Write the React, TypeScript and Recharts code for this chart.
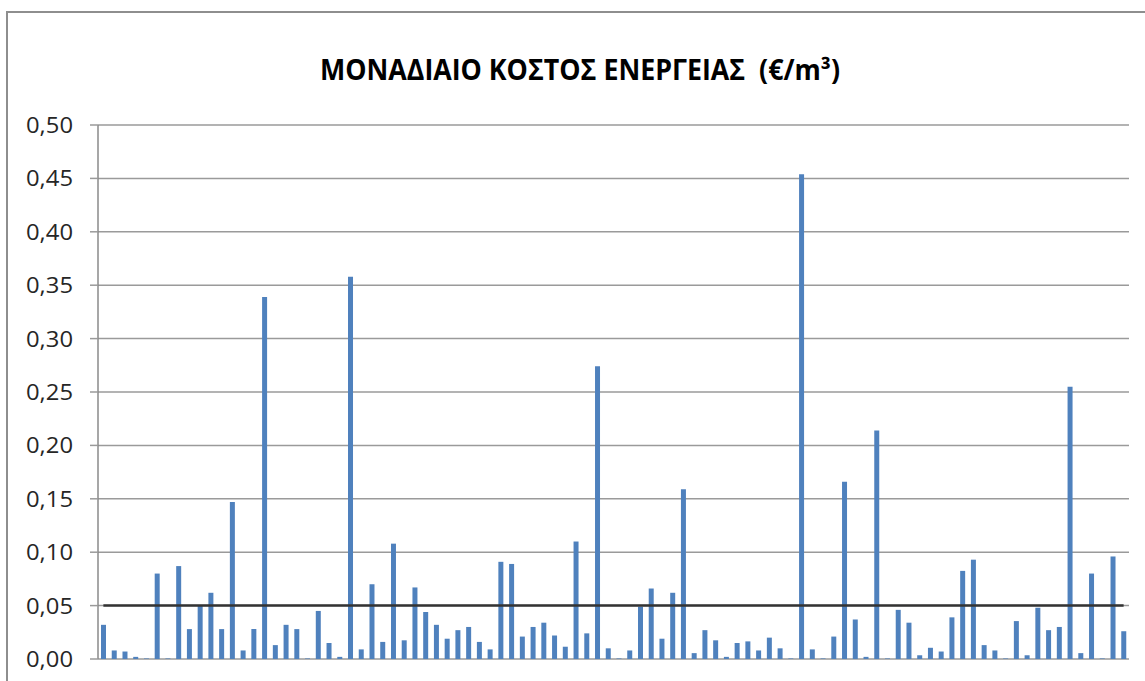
import React from "react";
import { BarChart, Bar, XAxis, YAxis, CartesianGrid, ReferenceLine } from "recharts";

const title = "ΜΟΝΑΔΙΑΙΟ ΚΟΣΤΟΣ ΕΝΕΡΓΕΙΑΣ  (€/m³)";

const categories = [
  "1", "2", "3", "4", "5", "6", "7", "8", "9", "10", "11", "12",
  "13", "14", "15", "16", "17", "18", "19", "20", "21", "22", "23", "24",
  "25", "26", "27", "28", "29", "30", "31", "32", "33", "34", "35", "36",
  "37", "38", "39", "40", "41", "42", "43", "44", "45", "46", "47", "48",
  "49", "50", "51", "52", "53", "54", "55", "56", "57", "58", "59", "60",
  "61", "62", "63", "64", "65", "66", "67", "68", "69", "70", "71", "72",
  "73", "74", "75", "76", "77", "78", "79", "80", "81", "82", "83", "84",
  "85", "86", "87", "88", "89", "90", "91", "92", "93", "94", "95", "96",
];

const unitCost = [
  0.032, 0.008, 0.007, 0.002, 0.0005, 0.08, 0.0005, 0.087, 0.028, 0.05, 0.062, 0.028,
  0.147, 0.008, 0.028, 0.339, 0.013, 0.032, 0.028, 0.0005, 0.045, 0.015, 0.002, 0.358,
  0.009, 0.07, 0.016, 0.108, 0.0175, 0.067, 0.044, 0.032, 0.019, 0.027, 0.03, 0.016,
  0.009, 0.091, 0.089, 0.021, 0.03, 0.034, 0.022, 0.0115, 0.11, 0.024, 0.274, 0.01,
  0.0005, 0.008, 0.049, 0.066, 0.019, 0.062, 0.159, 0.0055, 0.027, 0.0175, 0.002, 0.015,
  0.0165, 0.008, 0.02, 0.01, 0.0005, 0.454, 0.009, 0.0005, 0.021, 0.166, 0.037, 0.002,
  0.214, 0.0005, 0.046, 0.034, 0.0035, 0.0105, 0.007, 0.039, 0.0825, 0.093, 0.013, 0.008,
  0.0005, 0.0355, 0.0035, 0.048, 0.027, 0.03, 0.255, 0.0055, 0.08, 0.0005, 0.096, 0.026,
];

const threshold = 0.05;

const yTicks = [0, 0.05, 0.1, 0.15, 0.2, 0.25, 0.3, 0.35, 0.4, 0.45, 0.5];
const yTickLabels = ["0,00", "0,05", "0,10", "0,15", "0,20", "0,25", "0,30", "0,35", "0,40", "0,45", "0,50"];

const data = categories.map((c, i) => ({ name: c, value: unitCost[i] }));

const YTick = (props: any) => {
  const { x, y, index } = props;
  return (
    <text
      x={x}
      y={y}
      textAnchor="end"
      dominantBaseline="central"
      fontFamily="Open Sans"
      fontSize={21}
      fill="#262626"
      textLength={47}
      lengthAdjust="spacingAndGlyphs"
    >
      {yTickLabels[index]}
    </text>
  );
};

export default function App() {
  return (
    <div
      style={{
        position: "absolute",
        left: 0,
        top: 0,
        width: 1145,
        height: 681,
        overflow: "hidden",
        background: "#ffffff",
      }}
    >
      <div
        style={{
          position: "absolute",
          left: 6,
          top: 11,
          width: 1300,
          height: 900,
          border: "2px solid #8e8e8e",
          boxSizing: "border-box",
        }}
      />
      <svg
        width={1145}
        height={110}
        style={{ position: "absolute", left: 0, top: 0 }}
      >
        <text
          x={320}
          y={80}
          fontFamily="Open Sans"
          fontWeight="bold"
          fontSize={28}
          fill="#000000"
          textLength={520}
          lengthAdjust="spacingAndGlyphs"
          xmlSpace="preserve"
        >
          {title}
        </text>
      </svg>
      <div style={{ position: "absolute", left: 0, top: 0 }}>
        <BarChart
          width={1145}
          height={681}
          data={data}
          margin={{ top: 125, right: 16, bottom: 22, left: 0 }}
          barCategoryGap={0}
        >
          <CartesianGrid
            horizontal={true}
            vertical={false}
            stroke="#9a9a9a"
            strokeWidth={1.5}
          />
          <XAxis dataKey="name" hide />
          <YAxis
            width={98}
            domain={[0, 0.5]}
            ticks={yTicks}
            interval={0}
            axisLine={{ stroke: "#8a8a8a", strokeWidth: 1.5 }}
            tickLine={{ stroke: "#9a9a9a", strokeWidth: 1.5 }}
            tickSize={8}
            tickMargin={17}
            tick={<YTick />}
          />
          <Bar
            dataKey="value"
            fill="#4f81bd"
            barSize={5}
            isAnimationActive={false}
          />
          <ReferenceLine
            segment={[
              { x: categories[0], y: threshold },
              { x: categories[categories.length - 1], y: threshold },
            ]}
            stroke="#333333"
            strokeWidth={2.5}
          />
        </BarChart>
      </div>
    </div>
  );
}
